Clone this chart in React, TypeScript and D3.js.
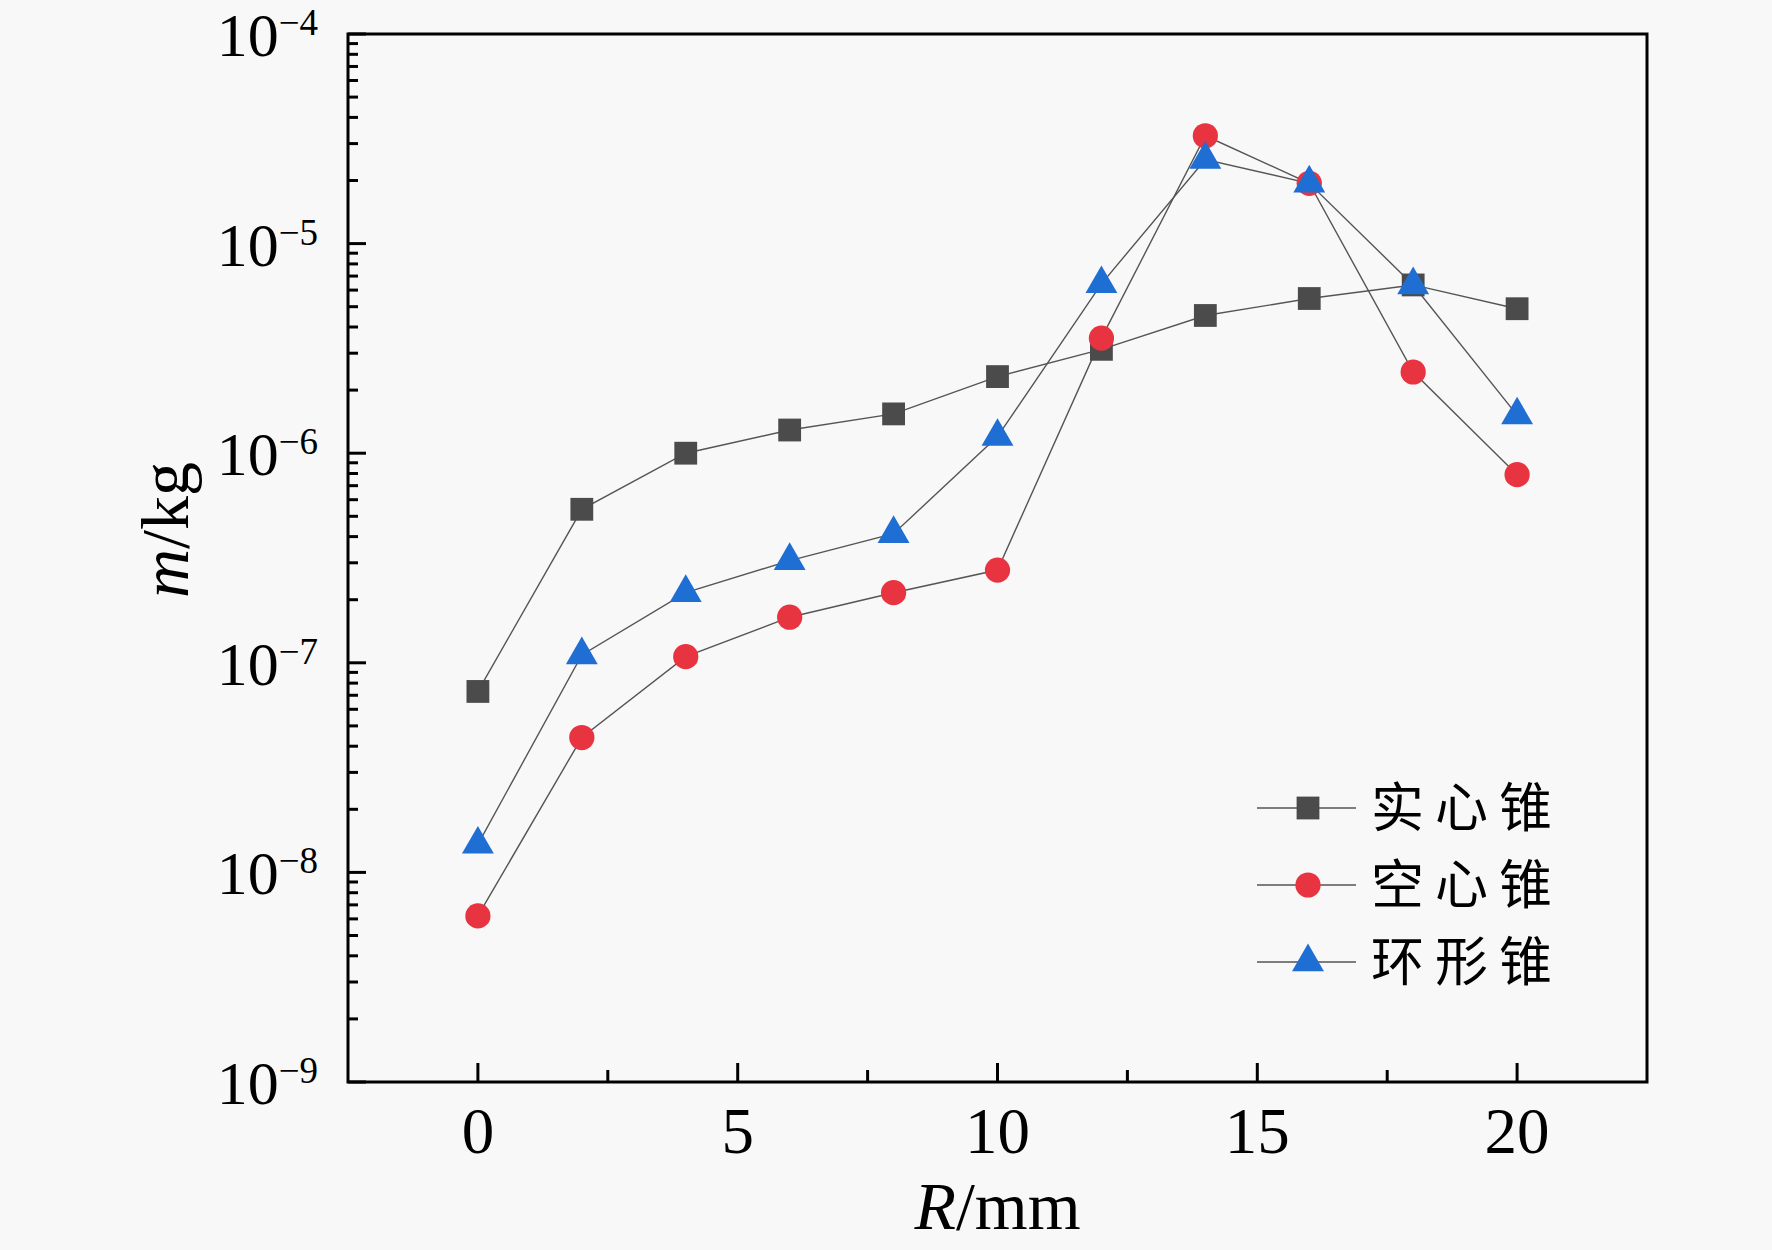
import { useEffect, useRef } from 'react'
import * as d3 from 'd3'

const R_MM = [0, 2, 4, 6, 8, 10, 12, 14, 16, 18, 20]
const SOLID = [7.3e-8, 5.4e-7, 1.0e-6, 1.29e-6, 1.54e-6, 2.32e-6, 3.13e-6, 4.54e-6, 5.47e-6, 6.35e-6, 4.89e-6]
const HOLLOW = [6.2e-9, 4.4e-8, 1.07e-7, 1.65e-7, 2.16e-7, 2.77e-7, 3.54e-6, 3.27e-5, 1.94e-5, 2.44e-6, 7.9e-7]
const RING = [1.36e-8, 1.09e-7, 2.16e-7, 3.07e-7, 4.13e-7, 1.2e-6, 6.43e-6, 2.52e-5, 1.94e-5, 6.35e-6, 1.52e-6]
const X_TICKS = [0, 5, 10, 15, 20]
const Y_EXPONENTS = [-9, -8, -7, -6, -5, -4]
const SERIES_NAMES = ['实心锥', '空心锥', '环形锥']

const WIDTH = 1772
const HEIGHT = 1250
const M = { top: 34, right: 125, bottom: 168, left: 348 }
const IW = WIDTH - M.left - M.right
const IH = HEIGHT - M.top - M.bottom
const SERIF = '"Liberation Serif", "DejaVu Serif", serif'
const CJK = '"Noto Sans CJK SC", sans-serif'

const STYLES = [
  { name: SERIES_NAMES[0], data: SOLID, shape: d3.symbolSquare, size: 520, fill: '#4b4b4b' },
  { name: SERIES_NAMES[1], data: HOLLOW, shape: d3.symbolCircle, size: 500, fill: '#e83341' },
  { name: SERIES_NAMES[2], data: RING, shape: d3.symbolTriangle, size: 440, fill: '#1f6ed4' },
]

export default function App() {
  const svgRef = useRef<SVGSVGElement>(null)

  useEffect(() => {
    if (!svgRef.current) return
    const svg = d3.select(svgRef.current)
    svg.selectAll('*').remove()

    svg.append('rect').attr('width', WIDTH).attr('height', HEIGHT).attr('fill', '#f8f8f8')

    const x = d3.scaleLinear().domain([-2.5, 22.5]).range([0, IW])
    const y = d3.scaleLog().domain([1e-9, 1e-4]).range([IH, 0])

    const g = svg.append('g').attr('transform', `translate(${M.left},${M.top})`)

    // frame
    g.append('rect').attr('width', IW).attr('height', IH)
      .attr('fill', 'none').attr('stroke', '#000').attr('stroke-width', 3)

    // x ticks (inward)
    const xMinor = d3.range(-2.5, 22.6, 2.5).filter(v => v > -2.5 && v < 22.5 && !X_TICKS.includes(v))
    g.selectAll('.xmaj').data(X_TICKS).join('line')
      .attr('x1', d => x(d)).attr('x2', d => x(d)).attr('y1', IH).attr('y2', IH - 19)
      .attr('stroke', '#000').attr('stroke-width', 3)
    g.selectAll('.xmin').data(xMinor).join('line')
      .attr('x1', d => x(d)).attr('x2', d => x(d)).attr('y1', IH).attr('y2', IH - 12)
      .attr('stroke', '#000').attr('stroke-width', 3)
    g.selectAll('.xlab').data(X_TICKS).join('text')
      .attr('x', d => x(d)).attr('y', IH + 71)
      .attr('text-anchor', 'middle').attr('font-family', SERIF).attr('font-size', 65)
      .attr('fill', '#000').text(d => d)

    // y ticks (inward, log)
    const yMinor: number[] = []
    Y_EXPONENTS.slice(0, -1).forEach(e => {
      for (let k = 2; k <= 9; k++) yMinor.push(k * Math.pow(10, e))
    })
    g.selectAll('.ymaj').data(Y_EXPONENTS).join('line')
      .attr('x1', 0).attr('x2', 18).attr('y1', d => y(Math.pow(10, d))).attr('y2', d => y(Math.pow(10, d)))
      .attr('stroke', '#000').attr('stroke-width', 3)
    g.selectAll('.ymin').data(yMinor).join('line')
      .attr('x1', 0).attr('x2', 10).attr('y1', d => y(d)).attr('y2', d => y(d))
      .attr('stroke', '#000').attr('stroke-width', 3)
    Y_EXPONENTS.forEach(e => {
      const yy = y(Math.pow(10, e))
      const t = g.append('text').attr('x', -30).attr('y', yy + 22)
        .attr('text-anchor', 'end').attr('font-family', SERIF).attr('fill', '#000')
      t.append('tspan').attr('font-size', 62).text('10')
      t.append('tspan').attr('font-size', 37).attr('dy', -21).text(`\u2212${-e}`)
    })

    // axis titles
    const yt = svg.append('text')
      .attr('transform', `translate(${188},${M.top + IH / 2 - 28}) rotate(-90)`)
      .attr('text-anchor', 'middle').attr('font-family', SERIF).attr('font-size', 68).attr('fill', '#000')
    yt.append('tspan').attr('font-style', 'italic').text('m')
    yt.append('tspan').text('/kg')

    const xt = svg.append('text').attr('x', M.left + x(10)).attr('y', 1229)
      .attr('text-anchor', 'middle').attr('font-family', SERIF).attr('font-size', 68).attr('fill', '#000')
    xt.append('tspan').attr('font-style', 'italic').text('R')
    xt.append('tspan').text('/mm')

    // lines
    const line = d3.line<number>().x((_, i) => x(R_MM[i])).y(d => y(d))
    STYLES.forEach(s => {
      g.append('path').datum(s.data).attr('d', line)
        .attr('fill', 'none').attr('stroke', '#555').attr('stroke-width', 1.4)
    })

    // markers
    STYLES.forEach(s => {
      const sym = d3.symbol().type(s.shape).size(s.size)
      g.selectAll(null).data(s.data).join('path')
        .attr('d', sym)
        .attr('transform', (d, i) => `translate(${x(R_MM[i])},${y(d)})`)
        .attr('fill', s.fill)
    })

    // legend
    const lg = g.append('g').attr('transform', `translate(${1308 - M.left},${808 - M.top})`)
    STYLES.forEach((s, i) => {
      const ly = i * 77
      lg.append('line').attr('x1', -51).attr('x2', 48).attr('y1', ly).attr('y2', ly)
        .attr('stroke', '#555').attr('stroke-width', 1.4)
      lg.append('path').attr('d', d3.symbol().type(s.shape).size(s.size)!)
        .attr('transform', `translate(0,${ly})`).attr('fill', s.fill)
      lg.append('text').attr('x', 63).attr('y', ly + 19)
        .attr('font-family', CJK).attr('font-size', 53).attr('letter-spacing', 11)
        .attr('fill', '#000').text(s.name)
    })
  }, [])

  return (
    <svg
      ref={svgRef}
      width={WIDTH}
      height={HEIGHT}
      style={{ position: 'absolute', left: 0, top: 0, display: 'block' }}
    />
  )
}
